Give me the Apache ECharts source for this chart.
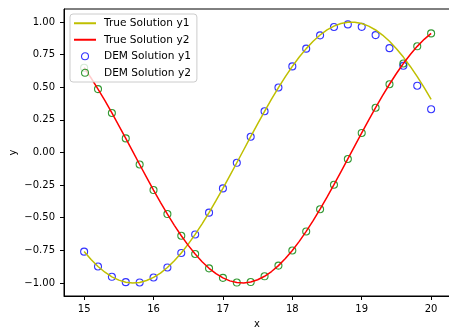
<!DOCTYPE html>
<html>
<head>
<meta charset="utf-8">
<script src="https://cdn.jsdelivr.net/npm/echarts@6/dist/echarts.min.js"></script>
<style>
html,body{margin:0;padding:0;background:#fff;}
#chart{width:449px;height:331px;}
</style>
</head>
<body>
<div id="chart"></div>
<script>
// True solution sample points (x step 0.1)
var xTrue = [15.0,15.1,15.2,15.3,15.4,15.5,15.6,15.7,15.8,15.9,
  16.0,16.1,16.2,16.3,16.4,16.5,16.6,16.7,16.8,16.9,
  17.0,17.1,17.2,17.3,17.4,17.5,17.6,17.7,17.8,17.9,
  18.0,18.1,18.2,18.3,18.4,18.5,18.6,18.7,18.8,18.9,
  19.0,19.1,19.2,19.3,19.4,19.5,19.6,19.7,19.8,19.9,20.0];
var trueY1 = [-0.7597,-0.8208,-0.8737,-0.9179,-0.9529,-0.9784,-0.9942,-0.9999,-0.9958,-0.9816,
  -0.9577,-0.9241,-0.8814,-0.8298,-0.7700,-0.7024,-0.6278,-0.5470,-0.4607,-0.3698,
  -0.2752,-0.1778,-0.0787,0.0212,0.1209,0.2194,0.3157,0.4089,0.4979,0.5820,
  0.6603,0.7320,0.7963,0.8527,0.9006,0.9395,0.9690,0.9888,0.9988,0.9987,
  0.9887,0.9688,0.9392,0.9003,0.8523,0.7958,0.7314,0.6597,0.5813,0.4972,0.4081];
var trueY2 = [0.6503,0.5712,0.4864,0.3968,0.3031,0.2065,0.1078,0.0080,-0.0919,-0.1908,
  -0.2879,-0.3821,-0.4724,-0.5580,-0.6381,-0.7118,-0.7783,-0.8371,-0.8876,-0.9291,
  -0.9614,-0.9841,-0.9969,-0.9998,-0.9927,-0.9756,-0.9489,-0.9126,-0.8672,-0.8132,
  -0.7510,-0.6813,-0.6049,-0.5223,-0.4346,-0.3425,-0.2470,-0.1490,-0.0496,0.0504,
  0.1498,0.2478,0.3433,0.4353,0.5231,0.6055,0.6820,0.7516,0.8137,0.8677,0.9130];

// DEM solution points (x step 0.2)
var xDem = [15.0,15.2,15.4,15.6,15.8,16.0,16.2,16.4,16.6,16.8,
  17.0,17.2,17.4,17.6,17.8,18.0,18.2,18.4,18.6,18.8,
  19.0,19.2,19.4,19.6,19.8,20.0];
var demY1 = [-0.760,-0.874,-0.953,-0.994,-0.996,-0.958,-0.881,-0.770,-0.628,-0.461,
  -0.275,-0.079,0.121,0.316,0.498,0.660,0.796,0.898,0.962,0.982,
  0.963,0.900,0.800,0.665,0.512,0.332];
var demY2 = [0.650,0.486,0.303,0.108,-0.092,-0.288,-0.472,-0.638,-0.778,-0.888,
  -0.961,-0.997,-0.993,-0.949,-0.867,-0.751,-0.605,-0.435,-0.247,-0.050,
  0.150,0.343,0.523,0.682,0.814,0.913];

var xTicks = [15,16,17,18,19,20];
var yTicks = [-1.0,-0.75,-0.5,-0.25,0.0,0.25,0.5,0.75,1.0];
var seriesNames = ['True Solution y1','True Solution y2','DEM Solution y1','DEM Solution y2'];

function pairs(xs, ys){ return xs.map(function(x,i){ return [x, ys[i]]; }); }

var FONT = 'DejaVu Sans';
var noSym = {color: 'rgba(0,0,0,0)', borderColor: 'rgba(0,0,0,0)', borderWidth: 0, opacity: 0};
var chart = echarts.init(document.getElementById('chart'), null, {renderer:'canvas'});
chart.setOption({
  animation: false,
  backgroundColor: '#fff',
  grid: {left: 64, top: 9, width: 386, bottom: 35, containLabel: false, outerBoundsMode: 'none',
    show: true, borderColor: '#000', borderWidth: 1, backgroundColor: 'transparent'},
  legend: {
    orient: 'vertical', left: 70, top: 14,
    padding: [3, 6, 3, 3],
    itemWidth: 22, itemHeight: 7, itemGap: 4,
    backgroundColor: 'rgba(255,255,255,0.8)',
    borderColor: '#cccccc', borderWidth: 1, borderRadius: 3,
    selectedMode: false,
    textStyle: {fontFamily: FONT, fontSize: 10.6, color: '#000', lineHeight: 12.5, padding: [0,0,0,3]},
    data: [
      {name: seriesNames[0], itemStyle: noSym},
      {name: seriesNames[1], itemStyle: noSym},
      {name: seriesNames[2], icon: 'circle', itemStyle: {color: 'rgba(0,0,0,0)', borderColor: '#0000ff', borderWidth: 1.1}},
      {name: seriesNames[3], icon: 'circle', itemStyle: {color: 'rgba(0,0,0,0)', borderColor: '#008000', borderWidth: 1.1}}
    ]
  },
  xAxis: {
    type: 'value', min: 14.71, max: 20.272,
    name: 'x', nameLocation: 'middle', nameGap: 23, nameMoveOverlap: false,
    nameTextStyle: {fontFamily: FONT, fontSize: 10, color: '#000'},
    splitLine: {show: false},
    axisLine: {show: true, onZero: false, lineStyle: {color: '#000', width: 1}},
    axisTick: {show: true, length: 4, lineStyle: {color: '#000'}, customValues: xTicks},
    axisLabel: {fontFamily: FONT, fontSize: 10, color: '#000', margin: 8, customValues: xTicks,
      formatter: function(v){ return String(Math.round(v)); }}
  },
  yAxis: {
    type: 'value', min: -1.1, max: 1.1,
    name: 'y', nameLocation: 'middle', nameGap: 46, nameRotate: 90, nameMoveOverlap: false,
    nameTextStyle: {fontFamily: FONT, fontSize: 10, color: '#000'},
    splitLine: {show: false},
    axisLine: {show: true, onZero: false, lineStyle: {color: '#000', width: 1}},
    axisTick: {show: true, length: 4, lineStyle: {color: '#000'}, customValues: yTicks},
    axisLabel: {fontFamily: FONT, fontSize: 10, color: '#000', margin: 9, customValues: yTicks,
      formatter: function(v){ var s = Math.abs(v).toFixed(2); return (v < -1e-9 ? '\u2212' : '') + s; }}
  },
  series: [
    {name: seriesNames[0], type: 'line', data: pairs(xTrue, trueY1), showSymbol: false, symbol: 'none',
      lineStyle: {color: '#bfbf00', width: 1.5}, itemStyle: {color: '#bfbf00'}},
    {name: seriesNames[1], type: 'line', data: pairs(xTrue, trueY2), showSymbol: false, symbol: 'none',
      lineStyle: {color: '#ff0000', width: 1.5}, itemStyle: {color: '#ff0000'}},
    {name: seriesNames[2], type: 'scatter', data: pairs(xDem, demY1), symbol: 'circle', symbolSize: 7,
      itemStyle: {color: 'rgba(0,0,0,0)', borderColor: '#0000ff', borderWidth: 1.1}},
    {name: seriesNames[3], type: 'scatter', data: pairs(xDem, demY2), symbol: 'circle', symbolSize: 7,
      itemStyle: {color: 'rgba(0,0,0,0)', borderColor: '#008000', borderWidth: 1.1}}
  ]
});
</script>
</body>
</html>
